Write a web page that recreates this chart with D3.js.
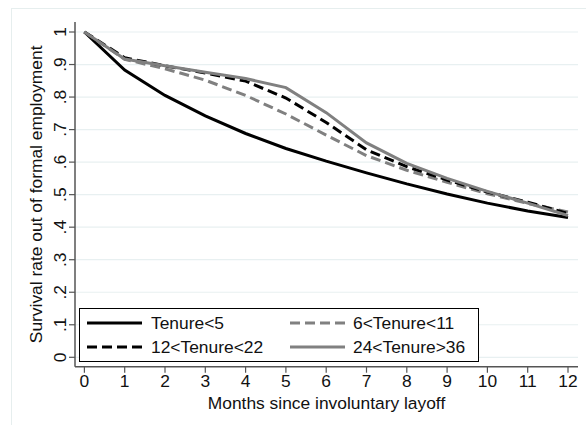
<!DOCTYPE html>
<html>
<head>
<meta charset="utf-8">
<script src="https://cdn.jsdelivr.net/npm/d3@7"></script>
<style>
  body { margin: 0; background: #fff; }
  text { font-family: "Liberation Sans", Arial, Helvetica, sans-serif; fill: #111; }
</style>
</head>
<body>
<div id="chart"></div>
<script>
  var months = [0, 1, 2, 3, 4, 5, 6, 7, 8, 9, 10, 11, 12];
  var yTicks = [0, 0.1, 0.2, 0.3, 0.4, 0.5, 0.6, 0.7, 0.8, 0.9, 1];
  var yTickLabels = ["0", ".1", ".2", ".3", ".4", ".5", ".6", ".7", ".8", ".9", "1"];

  var seriesNames = ["Tenure<5", "6<Tenure<11", "12<Tenure<22", "24<Tenure>36"];
  var tenure5  = [1, .883, .805, .742, .688, .642, .603, .567, .533, .502, .474, .450, .430];
  var tenure11 = [1, .916, .887, .852, .805, .748, .683, .620, .575, .538, .503, .473, .447];
  var tenure22 = [1, .921, .896, .874, .849, .797, .722, .638, .586, .545, .508, .477, .442];
  var tenure36 = [1, .917, .896, .876, .857, .829, .752, .659, .596, .550, .510, .474, .436];

  var width = 586, height = 425;
  var fs = 17.4;

  var svg = d3.select("#chart")
      .append("svg")
      .attr("width", width)
      .attr("height", height);

  // faint outer frame
  svg.append("rect")
      .attr("x", 11.5).attr("y", 8.5)
      .attr("width", 620).attr("height", 460)
      .attr("fill", "none")
      .attr("stroke", "#e6eeee");

  var plotLeft = 75, plotRight = 578, plotTop = 22, plotBottom = 366.7;

  var x = d3.scaleLinear().domain([0, 12]).range([84.4, 568]);
  var y = d3.scaleLinear().domain([0, 1]).range([357.3, 32]);

  // gridlines
  svg.selectAll(".grid")
      .data(yTicks)
    .enter().append("line")
      .attr("x1", plotLeft).attr("x2", plotRight)
      .attr("y1", function(d) { return y(d); })
      .attr("y2", function(d) { return y(d); })
      .attr("stroke", "#e8f0f1")
      .attr("stroke-width", 1.2);

  // axes lines
  svg.append("line")
      .attr("x1", plotLeft).attr("x2", plotLeft)
      .attr("y1", plotTop).attr("y2", plotBottom)
      .attr("stroke", "#555").attr("stroke-width", 1.5);
  svg.append("line")
      .attr("x1", plotLeft).attr("x2", plotRight)
      .attr("y1", plotBottom).attr("y2", plotBottom)
      .attr("stroke", "#555").attr("stroke-width", 1.5);

  // y ticks + rotated labels
  svg.selectAll(".ytick")
      .data(yTicks)
    .enter().append("line")
      .attr("x1", plotLeft - 6).attr("x2", plotLeft)
      .attr("y1", function(d) { return y(d); })
      .attr("y2", function(d) { return y(d); })
      .attr("stroke", "#555").attr("stroke-width", 1.2);

  svg.selectAll(".ylab")
      .data(yTicks)
    .enter().append("text")
      .attr("transform", function(d) { return "translate(66," + y(d) + ") rotate(-90)"; })
      .attr("text-anchor", "middle")
      .attr("font-size", fs)
      .text(function(d, i) { return yTickLabels[i]; });

  // x ticks + labels
  svg.selectAll(".xtick")
      .data(months)
    .enter().append("line")
      .attr("x1", function(d) { return x(d); })
      .attr("x2", function(d) { return x(d); })
      .attr("y1", plotBottom).attr("y2", plotBottom + 6)
      .attr("stroke", "#555").attr("stroke-width", 1.2);

  svg.selectAll(".xlab")
      .data(months)
    .enter().append("text")
      .attr("x", function(d) { return x(d); })
      .attr("y", 387)
      .attr("text-anchor", "middle")
      .attr("font-size", fs)
      .text(function(d) { return d; });

  // axis titles
  svg.append("text")
      .attr("x", (plotLeft + plotRight) / 2).attr("y", 409)
      .attr("text-anchor", "middle")
      .attr("font-size", fs)
      .text("Months since involuntary layoff");

  svg.append("text")
      .attr("transform", "translate(42," + ((plotTop + plotBottom) / 2) + ") rotate(-90)")
      .attr("text-anchor", "middle")
      .attr("font-size", fs)
      .text("Survival rate out of formal employment");

  // lines
  var styles = [
    { color: "#000", dash: null },
    { color: "#808080", dash: "10,5" },
    { color: "#000", dash: "10,5" },
    { color: "#808080", dash: null }
  ];
  var allSeries = [tenure5, tenure11, tenure22, tenure36];

  var line = d3.line()
      .x(function(d, i) { return x(months[i]); })
      .y(function(d) { return y(d); });

  allSeries.forEach(function(s, i) {
    svg.append("path")
        .attr("d", line(s))
        .attr("fill", "none")
        .attr("stroke", styles[i].color)
        .attr("stroke-width", 3)
        .attr("stroke-dasharray", styles[i].dash);
  });

  // legend
  var lg = svg.append("g");
  lg.append("rect")
      .attr("x", 79.5).attr("y", 308.5)
      .attr("width", 399).attr("height", 53)
      .attr("fill", "#fff")
      .attr("stroke", "#000").attr("stroke-width", 1);

  var legendPos = [
    { lx: 87, tx: 151, ly: 323, ty: 329 },
    { lx: 290, tx: 353, ly: 323, ty: 329 },
    { lx: 87, tx: 151, ly: 347, ty: 353 },
    { lx: 290, tx: 353, ly: 347, ty: 353 }
  ];

  seriesNames.forEach(function(name, i) {
    var p = legendPos[i];
    lg.append("line")
        .attr("x1", p.lx).attr("x2", p.lx + 55)
        .attr("y1", p.ly).attr("y2", p.ly)
        .attr("stroke", styles[i].color)
        .attr("stroke-width", 3)
        .attr("stroke-dasharray", styles[i].dash);
    lg.append("text")
        .attr("x", p.tx).attr("y", p.ty)
        .attr("font-size", fs)
        .text(name);
  });
</script>
</body>
</html>
